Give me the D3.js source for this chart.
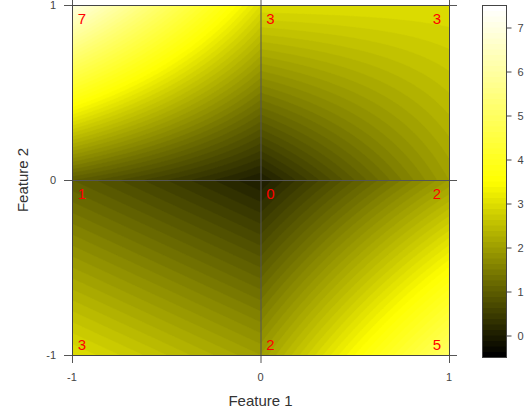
<!DOCTYPE html>
<html>
<head>
<meta charset="utf-8">
<script src="https://cdn.jsdelivr.net/npm/d3@7"></script>
<style>
  body { margin: 0; background: #fff; }
  text { font-family: "Liberation Sans", Arial, sans-serif; }
</style>
</head>
<body>
<div id="chart"></div>
<script>
// grid of the surface: feature values and z at each grid node (rows from y=-1 upward)
const feature1 = [-1, 0, 1];
const feature2 = [-1, 0, 1];
const zValues = [
  [3, 2, 5],   // feature2 = -1
  [1, 0, 2],   // feature2 = 0
  [7, 3, 3],   // feature2 = 1
];
const axisTicks = [-1, 0, 1];
const legendTicks = [0, 1, 2, 3, 4, 5, 6, 7];
const zRange = [-0.5, 7.5];
const nLevels = 64;

const W = 531, H = 415;
const box = { left: 72, right: 449, top: 5, bottom: 355 };
const lineColor = '#555';

const svg = d3.select('#chart').append('svg')
  .attr('width', W).attr('height', H);

const x = d3.scaleLinear().domain([-1, 1]).range([box.left, box.right]);
const y = d3.scaleLinear().domain([-1, 1]).range([box.bottom, box.top]);

// bilinear surface between the grid nodes
const surface = (fx, fy) => {
  let i = Math.min(feature1.length - 2, Math.max(0, d3.bisectRight(feature1, fx) - 1));
  let j = Math.min(feature2.length - 2, Math.max(0, d3.bisectRight(feature2, fy) - 1));
  const u = (fx - feature1[i]) / (feature1[i + 1] - feature1[i]);
  const v = (fy - feature2[j]) / (feature2[j + 1] - feature2[j]);
  return zValues[j][i] * (1 - u) * (1 - v) + zValues[j][i + 1] * u * (1 - v)
    + zValues[j + 1][i] * (1 - u) * v + zValues[j + 1][i + 1] * u * v;
};

const n = 300, m = 300;
const grid = new Array(n * m);
for (let r = 0; r < m; r++) {
  const fy = 1 - 2 * r / (m - 1);
  for (let c = 0; c < n; c++) {
    grid[r * n + c] = surface(-1 + 2 * c / (n - 1), fy);
  }
}

const levels = d3.range(nLevels + 1).map(k => zRange[0] + k * (zRange[1] - zRange[0]) / nLevels);
const ramp = d3.scaleLinear().domain([0, 0.5, 1]).range(['#000000', '#ffff00', '#ffffff']).interpolate(d3.interpolateRgb);
const colors = d3.range(nLevels).map(k => ramp(k / (nLevels - 1)));

const contours = d3.contours().size([n, m]).thresholds(levels.slice(0, -1))(grid);

const gx = d3.scaleLinear().domain([0.5, n - 0.5]).range([box.left, box.right]);
const gy = d3.scaleLinear().domain([0.5, m - 0.5]).range([box.top, box.bottom]);
const path = d3.geoPath(d3.geoTransform({
  point(px, py) { this.stream.point(gx(px), gy(py)); }
}));

svg.append('clipPath').attr('id', 'clip')
  .append('rect')
  .attr('x', box.left).attr('y', box.top)
  .attr('width', box.right - box.left).attr('height', box.bottom - box.top);

svg.append('g').attr('clip-path', 'url(#clip)')
  .selectAll('path')
  .data(contours)
  .join('path')
  .attr('d', path)
  .attr('fill', (d, i) => colors[i])
  .attr('stroke', (d, i) => colors[i])
  .attr('stroke-width', 0.5);

// grid lines running a little past the box, acting as ticks
const ext = 8;
svg.append('g').selectAll('line')
  .data(axisTicks)
  .join('line')
  .attr('x1', box.left - ext).attr('x2', box.right + ext)
  .attr('y1', d => y(d) + 0.5).attr('y2', d => y(d) + 0.5)
  .attr('stroke', lineColor).attr('stroke-width', 1);
svg.append('g').selectAll('line')
  .data(axisTicks)
  .join('line')
  .attr('x1', d => x(d) + 0.5).attr('x2', d => x(d) + 0.5)
  .attr('y1', box.top - ext).attr('y2', box.bottom + ext)
  .attr('stroke', lineColor).attr('stroke-width', 1);

svg.append('rect')
  .attr('x', box.left + 0.5).attr('y', box.top + 0.5)
  .attr('width', box.right - box.left).attr('height', box.bottom - box.top)
  .attr('fill', 'none').attr('stroke', '#444');

// tick labels
svg.append('g').selectAll('text')
  .data(axisTicks)
  .join('text')
  .attr('x', d => x(d)).attr('y', 381)
  .attr('text-anchor', 'middle')
  .attr('font-size', 11).attr('fill', '#444')
  .text(d => d);
svg.append('g').selectAll('text')
  .data(axisTicks)
  .join('text')
  .attr('x', 56).attr('y', d => y(d) + 4)
  .attr('text-anchor', 'end')
  .attr('font-size', 11).attr('fill', '#444')
  .text(d => d);

// axis titles
svg.append('text')
  .attr('x', x(0)).attr('y', 406)
  .attr('text-anchor', 'middle')
  .attr('font-size', 15).attr('fill', '#333')
  .text('Feature 1');
svg.append('text')
  .attr('transform', `translate(28, ${y(0)}) rotate(-90)`)
  .attr('text-anchor', 'middle')
  .attr('font-size', 15).attr('fill', '#333')
  .text('Feature 2');

// value labels at the grid nodes
const nodes = [];
feature2.forEach((fy, j) => feature1.forEach((fx, i) => nodes.push({ fx, fy, z: zValues[j][i] })));
svg.append('g').selectAll('text')
  .data(nodes)
  .join('text')
  .attr('x', d => x(d.fx) + (d.fx === 1 ? -12 : 10))
  .attr('y', d => y(d.fy) + (d.fy === -1 ? -5 : 19))
  .attr('text-anchor', 'middle')
  .attr('font-size', 15).attr('fill', '#ff0000')
  .text(d => d.z);

// colour key
const legend = { left: 482, right: 506, top: 5, bottom: 357 };
const ly = d3.scaleLinear().domain(zRange).range([legend.bottom, legend.top]);
svg.append('g').selectAll('rect')
  .data(d3.range(nLevels))
  .join('rect')
  .attr('x', legend.left)
  .attr('y', k => ly(levels[k + 1]))
  .attr('width', legend.right - legend.left)
  .attr('height', k => ly(levels[k]) - ly(levels[k + 1]) + 0.5)
  .attr('fill', k => colors[k]);
svg.append('rect')
  .attr('x', legend.left + 0.5).attr('y', legend.top + 0.5)
  .attr('width', legend.right - legend.left).attr('height', legend.bottom - legend.top)
  .attr('fill', 'none').attr('stroke', '#444');
svg.append('g')
  .attr('transform', `translate(${legend.right + 0.5}, 0.5)`)
  .call(d3.axisRight(ly).tickValues(legendTicks).tickSize(5).tickPadding(6))
  .call(g => g.select('.domain').remove())
  .call(g => g.selectAll('line').attr('stroke', '#444'))
  .call(g => g.selectAll('text').attr('font-size', 11).attr('fill', '#444')
    .attr('font-family', '"Liberation Sans", Arial, sans-serif'));
</script>
</body>
</html>
